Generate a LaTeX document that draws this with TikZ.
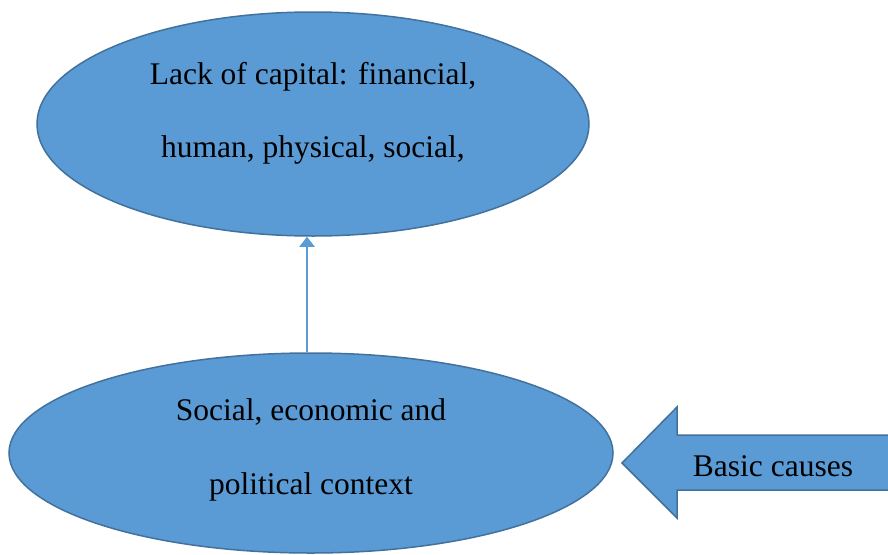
\documentclass[tikz,border=0pt]{standalone}
\usepackage{fontspec}
\setmainfont{Liberation Serif}
\usetikzlibrary{shapes.geometric,arrows.meta}
\definecolor{fillblue}{HTML}{5B9BD5}
\definecolor{edgeblue}{HTML}{41719C}
\tikzset{
  blob/.style={ellipse, fill=fillblue, draw=edgeblue, line width=1.5pt, inner sep=0pt},
  lbl/.style={font=\fontsize{31.5}{34}\selectfont, text=black, inner sep=0pt},
}
\begin{document}
\begin{tikzpicture}[x=1pt,y=-1pt]
\useasboundingbox (0,0) rectangle (888,554);
\node[blob, minimum width=552pt, minimum height=224pt] (top) at (313,124) {};
\node[blob, minimum width=604pt, minimum height=200pt] (bot) at (311,453) {};
\node[lbl] (t1) at (313,77) {Lack of capital: financial,};
\node[lbl] (t2) at (313,150) {human, physical, social,};
\node[lbl] (b1) at (311,412) {Social, economic and};
\node[lbl] (b2) at (311,487) {political context};
\coordinate (ax) at (307,0);
\draw[fillblue, line width=2pt, -{Triangle[width=15pt,length=10pt]}] (bot.north -| ax) -- (top.south -| ax);
\draw[fill=fillblue, draw=edgeblue, line width=1.5pt] (890,435) -- (677,435) -- (677,407) -- (622,463) -- (677,518) -- (677,490) -- (890,490) -- cycle;
\node[lbl] (bc) at (773,466) {Basic causes};
\end{tikzpicture}
\end{document}
